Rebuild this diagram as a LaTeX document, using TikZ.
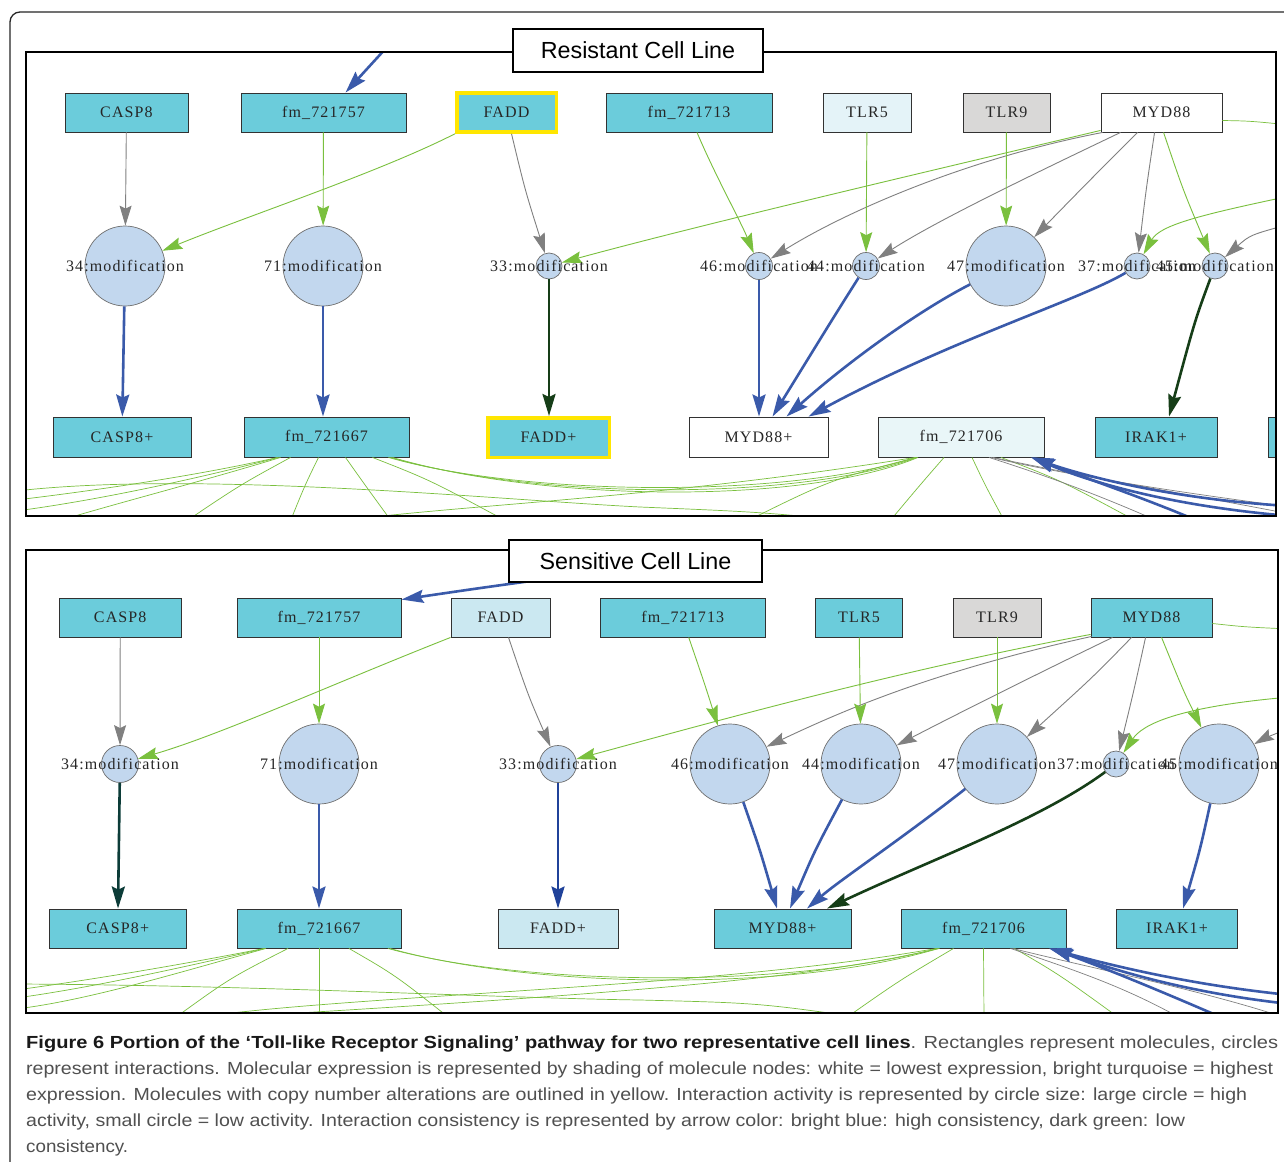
\documentclass[tikz,border=0pt]{standalone}
\usepackage{fontspec}
\usepackage{graphicx}
\setmainfont{Liberation Serif}
\newfontfamily\molfont[LetterSpace=7]{Liberation Serif}
\newfontfamily\titlefont{Liberation Sans}
\newfontfamily\capfont{Liberation Sans}
\usetikzlibrary{arrows.meta}
\definecolor{cyanfill}{RGB}{107,204,219}
\definecolor{boxdraw}{RGB}{50,50,50}
\definecolor{circfill}{RGB}{194,215,238}
\definecolor{circdraw}{RGB}{110,110,110}
\definecolor{garrow}{RGB}{128,128,128}
\definecolor{ggreen}{RGB}{122,192,62}
\definecolor{bblue}{RGB}{58,90,170}
\definecolor{dblue}{RGB}{32,66,154}
\definecolor{dgreen}{RGB}{22,62,24}
\definecolor{dteal}{RGB}{12,60,56}
\definecolor{yellowc}{RGB}{255,230,0}
\definecolor{tlrgray}{RGB}{217,216,215}
\definecolor{paleA}{RGB}{228,243,248}
\definecolor{paleB}{RGB}{233,246,248}
\definecolor{paleC}{RGB}{203,232,241}
\definecolor{capgray}{RGB}{80,80,80}
\begin{document}
\begin{tikzpicture}[x=1pt,y=-1pt,
  mol/.style={draw=boxdraw, line width=0.9pt, minimum height=39pt, inner sep=0pt,
    font=\molfont\fontsize{16}{18}\selectfont, text=black!85},
  inter/.style={circle, draw=circdraw, fill=circfill, line width=0.7pt, inner sep=0pt},
  lab/.style={inner sep=0pt, font=\molfont\fontsize{16}{18}\selectfont, text=black!85},
  thinarrow/.style={line width=0.9pt, -{Stealth[length=20pt,width=12pt,inset=3pt]}},
  gra/.style={thinarrow, draw=garrow},
  grn/.style={thinarrow, draw=ggreen},
  thickarrow/.style={line width=2.6pt, -{Stealth[length=22pt,width=13pt,inset=3pt]}},
  blu/.style={thickarrow, draw=bblue},
  dbl/.style={thickarrow, draw=dblue},
  dgr/.style={thickarrow, draw=dgreen},
  dtl/.style={thickarrow, draw=dteal},
  gl/.style={line width=0.7pt, draw=ggreen},
  gyl/.style={line width=0.7pt, draw=garrow},
  frame/.style={draw=black, line width=1.2pt},
  titlebox/.style={draw=black, line width=1.2pt, fill=white, inner sep=0pt,
    font=\titlefont\fontsize{23.3}{26}\selectfont},
  capline/.style={anchor=base west, inner sep=0pt, text=capgray}
]
\path[use as bounding box, fill=white] (0,0) rectangle (1284,1161);
\draw[line width=1.3pt, draw=black!85, rounded corners=10pt] (10,1180) -- (10,12) -- (1300,12);

% ================= Resistant panel =================
\begin{scope}
\clip (26,52) rectangle (1276,516);
% molecules, top row
\node[mol, fill=cyanfill, minimum width=123pt] (rCASP8) at (126.5,112.5) {CASP8};
\node[mol, fill=cyanfill, minimum width=165pt] (rfmA) at (323.5,112.5) {fm\_721757};
\node[mol, fill=cyanfill, draw=yellowc, line width=3.5pt, minimum width=99.5pt] (rFADD) at (506.5,112.5) {FADD};
\node[mol, fill=cyanfill, minimum width=166pt] (rfmB) at (689,112.5) {fm\_721713};
\node[mol, fill=paleA, minimum width=88pt] (rTLR5) at (867,112.5) {TLR5};
\node[mol, fill=tlrgray, minimum width=87pt] (rTLR9) at (1006.5,112.5) {TLR9};
\node[mol, fill=white, minimum width=121pt] (rMYD88) at (1161.5,112.5) {MYD88};
% interactions
\node[inter, minimum size=80pt] (r34) at (125,266) {};
\node[inter, minimum size=80pt] (r71) at (323,266) {};
\node[inter, minimum size=26pt] (r33) at (549,266) {};
\node[inter, minimum size=27pt] (r46) at (759,266) {};
\node[inter, minimum size=27pt] (r44) at (866,266) {};
\node[inter, minimum size=80pt] (r47) at (1006,266) {};
\node[inter, minimum size=26pt] (r37) at (1137,266) {};
\node[inter, minimum size=26pt] (r45) at (1215,266) {};
% molecules, bottom row
\node[mol, fill=cyanfill, minimum width=138pt, minimum height=40pt] (rCASP8p) at (122,437) {CASP8+};
\node[mol, fill=cyanfill, minimum width=165pt, minimum height=40pt] (rfmC) at (326.5,437) {fm\_721667};
\node[mol, fill=cyanfill, draw=yellowc, line width=3.5pt, minimum width=121.5pt, minimum height=39.5pt] (rFADDp) at (548.5,437.5) {FADD+};
\node[mol, fill=white, minimum width=139pt, minimum height=40pt] (rMYD88p) at (758.5,437) {MYD88+};
\node[mol, fill=paleB, minimum width=166pt, minimum height=40pt] (rfmD) at (961,437) {fm\_721706};
\node[mol, fill=cyanfill, minimum width=122pt, minimum height=40pt] (rIRAK1p) at (1156,437) {IRAK1+};
\node[mol, fill=cyanfill, minimum width=40pt, minimum height=40pt] (rcut) at (1288,437) {};
% free ends
\coordinate (rin1) at (388,46);
\coordinate (rrg1) at (1290,196);
\coordinate (rrg2) at (1290,224);
\coordinate (rrg3) at (1290,125);
\coordinate (rl0) at (16,500);
\coordinate (rl1) at (16,511);
\coordinate (rl2) at (55,522);
\coordinate (rl3) at (185,522);
\coordinate (rl4) at (290,522);
\coordinate (rl5) at (392,522);
\coordinate (rl6) at (508,522);
\coordinate (rl7) at (16,491);
\coordinate (rl8) at (862,522);
\coordinate (rl9) at (889,522);
\coordinate (rl10) at (1005,522);
\coordinate (rl11) at (1138,522);
\coordinate (rl12) at (335,522);
\coordinate (rl13) at (745,522);
\coordinate (rg1) at (1160,522);
\coordinate (rg2) at (1290,507);
\coordinate (rg3) at (1290,514);
\coordinate (rbb1) at (1290,506);
\coordinate (rbb2) at (1290,516);
\coordinate (rbb3) at (1205,524);
% edges to interactions
\draw[blu] (rin1) .. controls (366,70) .. ([xshift=22pt]rfmA.north);
\draw[gra] (rCASP8) -- (r34);
\draw[grn] (rfmA) -- (r71);
\draw[grn] (rFADD.south west) .. controls (380,172) and (250,215) .. (r34);
\draw[gra] ([xshift=5pt]rFADD.south) .. controls (525,190) .. (r33);
\draw[grn] ([yshift=2pt]rMYD88.south west) .. controls (900,178) and (700,225) .. (r33);
\draw[grn] ([xshift=8pt]rfmB.south) .. controls (715,175) and (740,220) .. (r46);
\draw[gra] ([xshift=2pt]rMYD88.south west) .. controls (960,160) and (840,215) .. (r46);
\draw[grn] (rTLR5) -- (r44);
\draw[gra] ([xshift=20pt]rMYD88.south west) .. controls (1000,190) and (930,225) .. (r44);
\draw[grn] (rTLR9) -- (r47);
\draw[gra] ([xshift=37pt]rMYD88.south west) .. controls (1090,180) .. (r47);
\draw[gra] ([xshift=54pt]rMYD88.south west) .. controls (1146,190) .. (r37);
\draw[grn] ([xshift=63pt]rMYD88.south west) .. controls (1183,190) .. (r45);
\draw[grn] (rrg1) .. controls (1200,215) and (1160,225) .. (r37);
\draw[gra] (rrg2) .. controls (1250,235) .. (r45);
\draw[gl] ([yshift=-8pt]rMYD88.east) .. controls (1250,121) .. (rrg3);
% edges to products
\draw[blu] (r34) -- (rCASP8p);
\draw[blu] (r71) -- (r71 |- rfmC.north);
\draw[dgr] (r33) -- (r33 |- rFADDp.north);
\draw[blu] (r46) -- (r46 |- rMYD88p.north);
\draw[blu] (r44) .. controls (835,315) .. ([xshift=14pt]rMYD88p.north);
\draw[blu] (r47) .. controls (920,310) and (850,360) .. ([xshift=28pt]rMYD88p.north);
\draw[blu] (r37) .. controls (1080,300) and (950,340) .. ([xshift=50pt]rMYD88p.north);
\draw[dgr] (r45) .. controls (1195,320) .. ([xshift=13pt]rIRAK1p.north);
% lower connections
\draw[gl] ([xshift=-49pt]rfmC.south) .. controls (200,475) and (100,490) .. (rl0);
\draw[gl] ([xshift=-48pt]rfmC.south) .. controls (200,478) and (100,500) .. (rl1);
\draw[gl] ([xshift=-46pt]rfmC.south) .. controls (200,482) and (110,505) .. (rl2);
\draw[gl] ([xshift=-36pt]rfmC.south) .. controls (240,485) .. (rl3);
\draw[gl] ([xshift=-8pt]rfmC.south) .. controls (305,485) .. (rl4);
\draw[gl] ([xshift=19pt]rfmC.south) .. controls (365,485) .. (rl5);
\draw[gl] ([xshift=46pt]rfmC.south) .. controls (430,480) .. (rl6);
\draw[gl] ([xshift=62pt]rfmC.south) .. controls (520,495) and (780,500) .. ([xshift=-45pt]rfmD.south);
\draw[gl] ([xshift=64pt]rfmC.south) .. controls (530,498) and (790,503) .. ([xshift=-44pt]rfmD.south);
\draw[gl] ([xshift=66pt]rfmC.south) .. controls (540,501) and (800,506) .. ([xshift=-43pt]rfmD.south);
\draw[gl] (rl7) .. controls (200,470) and (500,500) .. (640,507) .. controls (760,512) .. (rl8);
\draw[gl] (rl12) .. controls (450,505) and (650,500) .. ([xshift=-46pt]rfmD.south);
\draw[gl] ([xshift=-45pt]rfmD.south) .. controls (830,480) .. (rl13);
\draw[gl] ([xshift=-17pt]rfmD.south) .. controls (920,485) .. (rl9);
\draw[gl] ([xshift=11pt]rfmD.south) .. controls (985,485) .. (rl10);
\draw[gl] ([xshift=40pt]rfmD.south) .. controls (1060,480) .. (rl11);
\draw[gyl] ([xshift=28pt]rfmD.south) .. controls (1060,480) and (1110,500) .. (rg1);
\draw[gyl] ([xshift=30pt]rfmD.south) .. controls (1080,478) and (1200,495) .. (rg2);
\draw[gyl] ([xshift=32pt]rfmD.south) .. controls (1090,478) and (1220,500) .. (rg3);
\draw[blu] (rbb1) .. controls (1180,500) and (1090,478) .. ([xshift=70pt]rfmD.south);
\draw[blu] (rbb2) .. controls (1170,506) and (1090,482) .. ([xshift=71pt]rfmD.south);
\draw[blu] (rbb3) .. controls (1150,500) and (1090,480) .. ([xshift=72pt]rfmD.south);
% labels
\node[lab] (r34t) at (r34) {34:modification};
\node[lab] (r71t) at (r71) {71:modification};
\node[lab] (r33t) at (r33) {33:modification};
\node[lab] (r46t) at (r46) {46:modification};
\node[lab] (r44t) at (r44) {44:modification};
\node[lab] (r47t) at (r47) {47:modification};
\node[lab] (r37t) at (r37) {37:modification};
\node[lab] (r45t) at (r45) {45:modification};
\end{scope}
\draw[frame] (26,52) rectangle (1276,516);
\node[titlebox, minimum width=250pt, minimum height=43pt] (rtitle) at (638,50.5) {Resistant Cell Line};

% ================= Sensitive panel =================
\begin{scope}
\clip (26,550) rectangle (1278,1013);
\node[mol, fill=cyanfill, minimum width=121.5pt] (sCASP8) at (120.25,617.5) {CASP8};
\node[mol, fill=cyanfill, minimum width=164pt] (sfmA) at (319,617.5) {fm\_721757};
\node[mol, fill=paleC, minimum width=99pt] (sFADD) at (500.5,617.5) {FADD};
\node[mol, fill=cyanfill, minimum width=165.5pt] (sfmB) at (682.75,617.5) {fm\_721713};
\node[mol, fill=cyanfill, minimum width=87pt] (sTLR5) at (859,617.5) {TLR5};
\node[mol, fill=tlrgray, minimum width=88pt] (sTLR9) at (997,617.5) {TLR9};
\node[mol, fill=cyanfill, minimum width=121pt] (sMYD88) at (1151.5,617.5) {MYD88};
\node[inter, minimum size=37pt] (s34) at (120,764) {};
\node[inter, minimum size=80pt] (s71) at (319,764) {};
\node[inter, minimum size=37pt] (s33) at (558,764) {};
\node[inter, minimum size=80pt] (s46) at (730,764) {};
\node[inter, minimum size=80pt] (s44) at (861,764) {};
\node[inter, minimum size=80pt] (s47) at (997,764) {};
\node[inter, minimum size=26pt] (s37) at (1116,764) {};
\node[inter, minimum size=80pt] (s45) at (1219,764) {};
\node[mol, fill=cyanfill, minimum width=137.5pt] (sCASP8p) at (117.75,928.5) {CASP8+};
\node[mol, fill=cyanfill, minimum width=164pt] (sfmC) at (319,928.5) {fm\_721667};
\node[mol, fill=paleC, minimum width=120pt] (sFADDp) at (558,928.5) {FADD+};
\node[mol, fill=cyanfill, minimum width=137pt] (sMYD88p) at (782.5,928.5) {MYD88+};
\node[mol, fill=cyanfill, minimum width=165pt] (sfmD) at (983.5,928.5) {fm\_721706};
\node[mol, fill=cyanfill, minimum width=121pt] (sIRAK1p) at (1177,928.5) {IRAK1+};
% free ends
\coordinate (sin1) at (560,577);
\coordinate (srg1) at (1290,697);
\coordinate (srg2) at (1290,728);
\coordinate (srg3) at (1290,629);
\coordinate (sl0) at (16,990);
\coordinate (sl1) at (16,998);
\coordinate (sl2) at (16,1009);
\coordinate (sl3) at (172,1020);
\coordinate (sl4) at (319,1020);
\coordinate (sl5) at (452,1020);
\coordinate (sl7) at (16,984);
\coordinate (sl8) at (878,1020);
\coordinate (sl9) at (180,1020);
\coordinate (sl10) at (843,1020);
\coordinate (sl11) at (984,1020);
\coordinate (sl12) at (1122,1020);
\coordinate (sg1) at (1184,1020);
\coordinate (sg2) at (1280,1016);
\coordinate (sbb1) at (1290,995);
\coordinate (sbb2) at (1290,1004);
\coordinate (sbb3) at (1232,1022);
% edges to interactions
\draw[blu] (sin1) .. controls (480,588) .. ([yshift=-2pt]sfmA.north east);
\draw[gra] (sCASP8) -- (s34);
\draw[grn] (sfmA) -- (s71);
\draw[grn] (sFADD.south west) .. controls (330,685) and (220,735) .. (s34);
\draw[gra] ([xshift=8pt]sFADD.south) .. controls (528,695) .. (s33);
\draw[grn] ([yshift=3pt]sMYD88.south west) .. controls (900,670) and (720,720) .. (s33);
\draw[grn] ([xshift=6pt]sfmB.south) .. controls (705,685) .. (s46);
\draw[gra] ([xshift=1pt,yshift=1pt]sMYD88.south west) .. controls (930,672) and (840,712) .. (s46);
\draw[grn] (sTLR5) -- (s44);
\draw[gra] ([xshift=22pt]sMYD88.south west) .. controls (1010,687) and (930,728) .. (s44);
\draw[grn] (sTLR9) -- (s47);
\draw[gra] ([xshift=41pt]sMYD88.south west) .. controls (1093,677) .. (s47);
\draw[gra] ([xshift=55pt]sMYD88.south west) .. controls (1134,690) .. (s37);
\draw[grn] ([xshift=71pt]sMYD88.south west) .. controls (1183,690) .. (s45);
\draw[grn] (srg1) .. controls (1175,707) and (1142,725) .. (s37);
\draw[gra] (srg2) .. controls (1265,738) .. (s45);
\draw[gl] ([yshift=-6pt]sMYD88.east) .. controls (1245,627) .. (srg3);
% edges to products
\draw[dtl] (s34) -- (sCASP8p);
\draw[blu] (s71) -- (sfmC);
\draw[dbl] (s33) -- (sFADDp);
\draw[blu] (s46) .. controls (760,850) .. ([xshift=-5.5pt]sMYD88p.north);
\draw[blu] (s44) .. controls (815,850) .. ([xshift=7.5pt]sMYD88p.north);
\draw[blu] (s47) .. controls (900,840) and (840,880) .. ([xshift=24.5pt]sMYD88p.north);
\draw[dgr] (s37) .. controls (1040,820) and (930,860) .. ([xshift=44.5pt]sMYD88p.north);
\draw[blu] (s45) .. controls (1200,850) .. ([xshift=6pt]sIRAK1p.north);
% lower connections
\draw[gl] ([xshift=-55pt]sfmC.south) .. controls (180,965) and (90,980) .. (sl0);
\draw[gl] ([xshift=-54pt]sfmC.south) .. controls (180,968) and (90,988) .. (sl1);
\draw[gl] ([xshift=-53pt]sfmC.south) .. controls (180,972) and (90,1000) .. (sl2);
\draw[gl] ([xshift=-31pt]sfmC.south) .. controls (230,978) .. (sl3);
\draw[gl] (sfmC.south) -- (sl4);
\draw[gl] ([xshift=30pt]sfmC.south) .. controls (395,975) .. (sl5);
\draw[gl] ([xshift=69pt]sfmC.south) .. controls (520,985) and (780,990) .. ([xshift=-46pt]sfmD.south);
\draw[gl] ([xshift=71pt]sfmC.south) .. controls (530,988) and (790,993) .. ([xshift=-45pt]sfmD.south);
\draw[gl] (sl7) .. controls (250,985) and (500,998) .. (640,1000) .. controls (760,1003) .. (sl8);
\draw[gl] (sl9) .. controls (330,995) and (700,990) .. ([xshift=-47pt]sfmD.south);
\draw[gl] ([xshift=-44pt]sfmD.south) .. controls (820,975) and (700,990) .. (sl9);
\draw[gl] ([xshift=-30pt]sfmD.south) .. controls (900,980) .. (sl10);
\draw[gl] (sfmD.south) -- (sl11);
\draw[gl] ([xshift=31pt]sfmD.south) .. controls (1060,975) .. (sl12);
\draw[gyl] ([xshift=27pt]sfmD.south) .. controls (1090,975) and (1130,990) .. (sg1);
\draw[gyl] ([xshift=29pt]sfmD.south) .. controls (1100,970) and (1200,990) .. (sg2);
\draw[blu] (sbb1) .. controls (1190,985) and (1110,965) .. ([xshift=65.5pt]sfmD.south);
\draw[blu] (sbb2) .. controls (1180,992) and (1110,968) .. ([xshift=66.5pt]sfmD.south);
\draw[blu] (sbb3) .. controls (1170,995) and (1110,970) .. ([xshift=67.5pt]sfmD.south);
% labels
\node[lab] (s34t) at (s34) {34:modification};
\node[lab] (s71t) at (s71) {71:modification};
\node[lab] (s33t) at (s33) {33:modification};
\node[lab] (s46t) at (s46) {46:modification};
\node[lab] (s44t) at (s44) {44:modification};
\node[lab] (s47t) at (s47) {47:modification};
\node[lab] (s37t) at (s37) {37:modification};
\node[lab] (s45t) at (s45) {45:modification};
\end{scope}
\draw[frame] (26,550) rectangle (1278,1013);
\node[titlebox, minimum width=253pt, minimum height=42pt] (stitle) at (635.5,561) {Sensitive Cell Line};

% ================= caption =================
\node[capline] (cap1) at (26,1048) {\resizebox{1252pt}{\height}{\capfont\fontsize{17.5}{20}\selectfont{\color{black!90}\bfseries Figure 6 Portion of the ‘Toll-like Receptor Signaling’ pathway for two representative cell lines}. Rectangles represent molecules, circles}};
\node[capline] (cap2) at (26,1074) {\resizebox{1247pt}{\height}{\capfont\fontsize{17.5}{20}\selectfont represent interactions. Molecular expression is represented by shading of molecule nodes: white = lowest expression, bright turquoise = highest}};
\node[capline] (cap3) at (26,1100) {\resizebox{1221pt}{\height}{\capfont\fontsize{17.5}{20}\selectfont expression. Molecules with copy number alterations are outlined in yellow. Interaction activity is represented by circle size: large circle = high}};
\node[capline] (cap4) at (26,1126) {\resizebox{1159pt}{\height}{\capfont\fontsize{17.5}{20}\selectfont activity, small circle = low activity. Interaction consistency is represented by arrow color: bright blue: high consistency, dark green: low}};
\node[capline] (cap5) at (26,1152) {\resizebox{102pt}{\height}{\capfont\fontsize{17.5}{20}\selectfont consistency.}};
\end{tikzpicture}
\end{document}
